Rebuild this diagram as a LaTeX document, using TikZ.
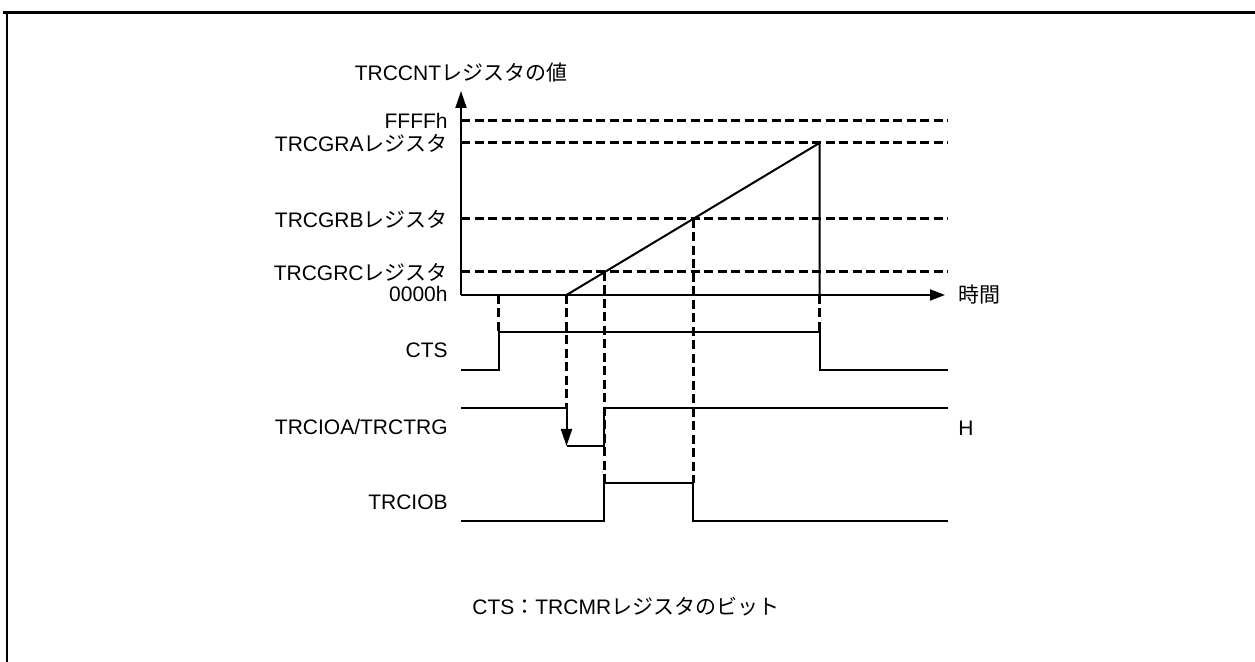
\documentclass[tikz,border=0pt]{standalone}
\usepackage{fontspec}
\setmainfont{Liberation Sans}
\newfontfamily\jpfont{Noto Sans CJK JP}
\usetikzlibrary{arrows.meta, positioning}
\newcommand{\jp}[1]{{\jpfont #1}}
\tikzset{
  sig/.style={line width=1pt, line join=miter},
  guide/.style={line width=1.5pt, dash pattern=on 4.5pt off 2.25pt},
  yarr/.style={line width=1pt, -{Triangle[length=8.5pt, width=5.5pt]}},
  xarr/.style={line width=1pt, -{Triangle[length=7.5pt, width=5.5pt]}},
  lbl/.style={font=\fontsize{10.5}{12}\selectfont, inner sep=0pt},
}
\begin{document}
\begin{tikzpicture}[x=0.5pt, y=-0.5pt]
  \useasboundingbox (0,0) rectangle (1255,662);
  \draw[line width=1.5pt] (3,13) -- (1255,13);
  \draw[line width=1.25pt] (7,13) -- (7,662);

  % counter axes
  \coordinate (org) at (461,295);
  \coordinate (ytip) at (461,91);
  \coordinate (xtip) at (945,295);
  \draw[yarr] (org) -- (ytip);
  \draw[xarr] (org) -- (xtip);
  \node[lbl] (title) at (461,73) {TRCCNT\jp{レジスタの値}};
  \node[lbl, anchor=west] (time) at (958,295) {\jp{時間}};
  \node[lbl, anchor=east] (zero) at (448,294) {0000h};

  % register levels
  \foreach \nm/\yy/\txt in {ffff/121/{FFFFh}, gra/143/{TRCGRA\jp{レジスタ}},
                            grb/219/{TRCGRB\jp{レジスタ}}, grc/272/{TRCGRC\jp{レジスタ}}}{
    \coordinate (\nm) at (461,\yy);
    \node[lbl, anchor=east] (l\nm) at (448,\yy) {\txt};
    \draw[guide] (\nm) -- ++(487,0);
  }

  % counter ramp
  \coordinate (rs) at (566.5,295);
  \coordinate (rtop) at (819.5,143);
  \draw[sig] (rs) -- (rtop) -- (rtop |- org);

  % CTS
  \node[lbl, anchor=east] (lcts) at (448,350) {CTS};
  \coordinate (ctsup) at (498.5,332);
  \coordinate (ctsdn) at (819.5,332);
  \draw[sig] (461,370) -- (ctsup |- 0,370) -- (ctsup) -- (ctsdn) -- (ctsdn |- 0,370) -- (948,370);

  % TRCIOA/TRCTRG
  \node[lbl, anchor=east] (ltrg) at (448,427) {TRCIOA/TRCTRG};
  \node[lbl, anchor=west] (lh) at (958,428) {H};
  \coordinate (trgfall) at (566.5,408);
  \coordinate (trglow) at (566.5,446);
  \coordinate (trgrise) at (604,446);
  \draw[sig] (461,408) -- (trgfall);
  \draw[yarr] (trgfall) -- (trglow);
  \draw[sig] (trglow) -- (trgrise) -- (trgrise |- trgfall) -- (948,408);

  % TRCIOB
  \node[lbl, anchor=east] (liob) at (448,502) {TRCIOB};
  \coordinate (iobup) at (604,483);
  \coordinate (iobdn) at (693,483);
  \draw[sig] (461,521) -- (iobup |- 0,521) -- (iobup) -- (iobdn) -- (iobdn |- 0,521) -- (948,521);

  % timing guides
  \draw[guide] (ctsup |- org) -- (ctsup);
  \draw[guide] (rs) -- (trgfall);
  \draw[guide] (iobup |- grc) -- (iobup);
  \draw[guide] (iobdn |- grb) -- (iobdn);
  \draw[guide] (ctsdn |- org) -- (ctsdn);

  \node[lbl, anchor=west] (note) at (472,607) {CTS\jp{：}TRCMR\jp{レジスタのビット}};
\end{tikzpicture}
\end{document}
